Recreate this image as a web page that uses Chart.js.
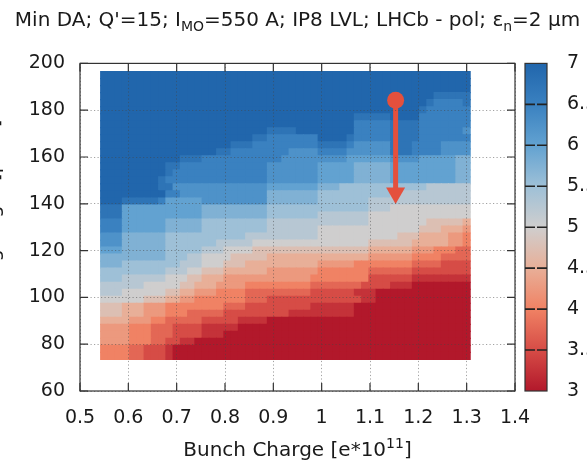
<!DOCTYPE html>
<html>
<head>
<meta charset="utf-8">
<title>Min DA scan</title>
<script src="https://cdn.jsdelivr.net/npm/chart.js@4.4.1/dist/chart.umd.min.js"></script>
<style>
  html, body { margin: 0; padding: 0; background: #ffffff; overflow: hidden; }
  canvas { display: block; }
</style>
</head>
<body>
<canvas id="da-chart" width="587" height="463"></canvas>
<script>
// Bunch charge (x) and crossing angle (y) at the centre of each scan cell
const bunchCharge = [0.55, 0.565, 0.58, 0.595, 0.61, 0.625, 0.64, 0.655, 0.67, 0.685,
                     0.7, 0.715, 0.73, 0.745, 0.76, 0.775, 0.79, 0.805, 0.82, 0.835,
                     0.85, 0.865, 0.88, 0.895, 0.91, 0.925, 0.94, 0.955, 0.97, 0.985,
                     1.0, 1.015, 1.03, 1.045, 1.06, 1.075, 1.09, 1.105, 1.12, 1.135,
                     1.15, 1.165, 1.18, 1.195, 1.21, 1.225, 1.24, 1.255, 1.27, 1.285, 1.3];
const crossingAngle = [75, 78, 81, 84, 87, 90, 93, 96, 99, 102, 105, 108, 111, 114,
                       117, 120, 123, 126, 129, 132, 135, 138, 141, 144, 147, 150, 153,
                       156, 159, 162, 165, 168, 171, 174, 177, 180, 183, 186, 189, 192, 195];

// Min DA per cell, one letter per cell, in steps of 0.25 starting at 3.0
// ('0' = 3.0, '4' = 4.0, '8' = 5.0, 'C' = 6.0, 'G' = 7.0).
// First row is the top of the plot (195), last row is 75. Space every ten cells.
const daLevels = '0123456789ABCDEFG';
const daRows = [
  'GGGGGGGGGG GGGGGGGGGG GGGGGGGGGG GGGGGGGGGG GGGGGGGGGG G', // 195
  'GGGGGGGGGG GGGGGGGGGG GGGGGGGGGG GGGGGGGGGG GGGGGGGGGG G', // 192
  'GGGGGGGGGG GGGGGGGGGG GGGGGGGGGG GGGGGGGGGG GGGGGGGGGG G', // 189
  'GGGGGGGGGG GGGGGGGGGG GGGGGGGGGG GGGGGGGGGG GGGGGGFFFF F', // 186
  'GGGGGGGGGG GGGGGGGGGG GGGGGGGGGG GGGGGGGGGG GGGGGFEEEE F', // 183
  'GGGGGGGGGG GGGGGGGGGG GGGGGGGGGG GGGGGGGGGG GGGGFEEEEE E', // 180
  'GGGGGGGGGG GGGGGGGGGG GGGGGGGGGG GGGGGFFFFF GGGGEEEEEE E', // 177
  'GGGGGGGGGG GGGGGGGGGG GGGGGGGGGG GGGGGEEEEE FFFFEEEEEE E', // 174
  'GGGGGGGGGG GGGGGGGGGG GGGFFFFGGG GGGGGEEEEE FFFFEEEEEE D', // 171
  'GGGGGGGGGG GGGGGGGGGG GFFEEEEEEE GGGGFEEEEE FFFFEEEEEE E', // 168
  'GGGGGGGGGG GGGGGGGGFF FEEEEEEEEE FFFFEDDDDD FFFEEEEDDD D', // 165
  'GGGGGGGGGG GGGGGGFFEE EEEEEEDDDD EEEEDDDDDD FFFEEEEDDD D', // 162
  'GGGGGGGGGG GFFFEEEEEE EEEEEDDDDD DDDDCCCCCC DDDDCCCCCB B', // 159
  'GGGGGGGGGF FEEEEEEEEE EEEDDDDDDD CCCCCBBBBB CCCCCCCCCB B', // 156
  'GGGGGGGGGF EEEEEEEEEE EEEDDDDDDD CCCCCBBBBB CCCCCCCCCB B', // 153
  'GGGGGGGGFE EEEEEEEEEE EEEDDDDDDD CCCCCBBBBB CCCCCCCCCB B', // 150
  'GGGGGGGGFF DDDDDDDDDD DDDCCCCCCC BBBAAAAAAA AAAAA99999 9', // 147
  'GGGGGGGGGE EDDDDDDDDD DDDBBBBBBB AAAAAAAAAA 9999999999 9', // 144
  'GGGFFFFFEC CCCCDDDDDD DDDBBBBBBB AAAAAAA999 9999999999 9', // 141
  'FFFCCCCCCC CCCCBBBBBB BBBAAAAAAA AAAAAAA999 8888888888 8', // 138
  'FFFCCCCCCC CCCCBBBBBB BBBAAAAAAA 9999999888 8888888888 8', // 135
  'EEECCCCCCB BBBBAAAAAA AAA9999999 9999999888 8888877777 6', // 132
  'EEECCCCCCB BBBBAAAAAA AAA9999999 8888888888 8888777666 5', // 129
  'DDDBBBBBBA AAAAAAAAAA 9999999999 8888888888 8777666655 4', // 126
  'DDDBBBBBBA AAAAAA9999 9888888888 8888888777 7776666655 4', // 123
  'CCCBBBBBBA AAAA999888 8777777777 7777777666 6665554443 3', // 120
  'BBBBBBBBBA AA99888877 7776666666 6666666555 5554444333 3', // 117
  'BBBAAAAAAA A999888777 6666666666 5555544444 4443333222 2', // 114
  'AAAAAAAAA9 9988777666 6665555555 4444444333 3332222222 2', // 111
  'AAA9999998 8877666555 5555555554 4444444222 2221111111 1', // 108
  '9999998888 8776665555 4444444443 3333332222 1110000000 0', // 105
  '9998888887 7665554444 3333333332 2222211100 0000000000 0', // 102
  '8888887776 6554444444 3332222222 2222221100 0000000000 0', // 99
  '7776665554 4444444333 2222222221 1111100000 0000000000 0', // 96
  '7776665554 4433333222 2222221111 1111100000 0000000000 0', // 93
  '6666555443 3333222221 1110000000 0000000000 0000000000 0', // 90
  '5555444333 2222111110 0000000000 0000000000 0000000000 0', // 87
  '5555444333 2222111000 0000000000 0000000000 0000000000 0', // 84
  '5555444332 2110000000 0000000000 0000000000 0000000000 0', // 81
  '4444332221 0000000000 0000000000 0000000000 0000000000 0', // 78
  '4444332221 0000000000 0000000000 0000000000 0000000000 0'  // 75
];

// Colour bar range / ticks
const colourTicks = [3, 3.5, 4, 4.5, 5, 5.5, 6, 6.5, 7];

// Scan arrow: start point (circle) and end point (arrow head)
const arrowCharge = [1.153, 1.153];
const arrowAngle = [184.3, 144.6];

// RdBu-like palette with a grey middle, as on the colour bar
const palette = [
  [3.0, [178, 24, 43]],
  [3.5, [214, 76, 70]],
  [4.0, [240, 130, 100]],
  [4.5, [232, 175, 152]],
  [5.0, [207, 206, 206]],
  [5.5, [158, 192, 215]],
  [6.0, [98, 162, 209]],
  [6.5, [58, 129, 192]],
  [7.0, [33, 102, 172]]
];
const textColour = '#1a1a1a';
const arrowColour = '#e4503d';
const FONT = "'DejaVu Sans', sans-serif";

function daColour(v) {
  if (v <= palette[0][0]) return 'rgb(' + palette[0][1].join(',') + ')';
  for (let i = 1; i < palette.length; i++) {
    if (v <= palette[i][0]) {
      const [v0, c0] = palette[i - 1];
      const [v1, c1] = palette[i];
      const t = (v - v0) / (v1 - v0);
      const c = c0.map((a, k) => Math.round(a + (c1[k] - a) * t));
      return 'rgb(' + c.join(',') + ')';
    }
  }
  return 'rgb(' + palette[palette.length - 1][1].join(',') + ')';
}

// Build the cells from the rows
const cells = [];
daRows.forEach((row, r) => {
  const codes = row.replace(/ /g, '');
  if (codes.length !== bunchCharge.length) console.warn('row', r, 'has', codes.length, 'cells');
  const angle = crossingAngle[crossingAngle.length - 1 - r];
  for (let c = 0; c < codes.length; c++) {
    cells.push({ x: bunchCharge[c], y: angle, v: 3 + daLevels.indexOf(codes[c]) * 0.25 });
  }
});

const xStep = bunchCharge[1] - bunchCharge[0];
const yStep = crossingAngle[1] - crossingAngle[0];

// half-size of one cell in pixels, turned into a 'rect' point radius
function cellRadius(ctx) {
  const s = ctx.chart.scales;
  if (!s.x || !s.y) return 5;
  const w = Math.abs(s.x.getPixelForValue(xStep) - s.x.getPixelForValue(0));
  const h = Math.abs(s.y.getPixelForValue(yStep) - s.y.getPixelForValue(0));
  return (Math.max(w, h) / 2 + 0.45) / Math.SQRT1_2;
}

// draw a line of text made of runs (normal / sub / superscript)
function drawRuns(ctx, runs, x, y, align) {
  let total = 0;
  runs.forEach(r => {
    ctx.font = r.size + 'px ' + FONT;
    r.w = ctx.measureText(r.text).width;
    total += r.w;
  });
  let cx = align === 'center' ? x - total / 2 : x;
  runs.forEach(r => {
    ctx.font = r.size + 'px ' + FONT;
    ctx.fillText(r.text, cx, y + (r.shift || 0));
    cx += r.w;
  });
}

const decorations = {
  id: 'decorations',
  afterDraw(chart) {
    const { ctx, chartArea: a, scales } = chart;
    const tickLen = 8;
    ctx.save();

    // frame around the plot with inner ticks on all four sides
    ctx.strokeStyle = '#333333';
    ctx.lineWidth = 1.2;
    ctx.strokeRect(a.left, a.top, a.right - a.left, a.bottom - a.top);
    ctx.beginPath();
    scales.x.ticks.forEach(t => {
      const px = scales.x.getPixelForValue(t.value);
      ctx.moveTo(px, a.bottom); ctx.lineTo(px, a.bottom - tickLen);
      ctx.moveTo(px, a.top); ctx.lineTo(px, a.top + tickLen);
    });
    scales.y.ticks.forEach(t => {
      const py = scales.y.getPixelForValue(t.value);
      ctx.moveTo(a.left, py); ctx.lineTo(a.left + tickLen, py);
      ctx.moveTo(a.right, py); ctx.lineTo(a.right - tickLen, py);
    });
    ctx.stroke();

    // colour bar
    const cb = scales.cb;
    const top = cb.getPixelForValue(colourTicks[colourTicks.length - 1]);
    const bottom = cb.getPixelForValue(colourTicks[0]);
    const left = a.right + 10, width = 22;
    const grad = ctx.createLinearGradient(0, bottom, 0, top);
    palette.forEach(([v, c]) => {
      grad.addColorStop((v - palette[0][0]) / (palette[palette.length - 1][0] - palette[0][0]),
        'rgb(' + c.join(',') + ')');
    });
    ctx.fillStyle = grad;
    ctx.fillRect(left, top, width, bottom - top);
    ctx.strokeStyle = '#333333';
    ctx.lineWidth = 1.2;
    ctx.strokeRect(left, top, width, bottom - top);
    ctx.strokeStyle = '#222222';
    ctx.lineWidth = 1.6;
    ctx.beginPath();
    colourTicks.slice(1, -1).forEach(v => {
      const py = cb.getPixelForValue(v);
      ctx.moveTo(left, py); ctx.lineTo(left + 10, py);
      ctx.moveTo(left + width - 10, py); ctx.lineTo(left + width, py);
    });
    ctx.stroke();

    // titles
    ctx.fillStyle = textColour;
    ctx.textBaseline = 'alphabetic';
    ctx.textAlign = 'left';
    const midX = (a.left + a.right) / 2;
    drawRuns(ctx, [
      { text: "Min DA; Q'=15; I", size: 20 },
      { text: 'MO', size: 14, shift: 5 },
      { text: '=550 A; IP8 LVL; LHCb - pol; \u03b5', size: 20 },
      { text: 'n', size: 14, shift: 5 },
      { text: '=2 \u03bcm', size: 20 }
    ], midX, 26, 'center');

    drawRuns(ctx, [
      { text: 'Bunch Charge [e*10', size: 20 },
      { text: '11', size: 14, shift: -8 },
      { text: ']', size: 20 }
    ], midX, 456, 'center');

    // y title sits mostly outside the picture, only its descenders show
    ctx.save();
    ctx.translate(-1.5, (a.top + a.bottom) / 2);
    ctx.rotate(-Math.PI / 2);
    ctx.textAlign = 'center';
    ctx.font = '20px ' + FONT;
    ctx.fillText('Crossing angle [\u03bcrad]', 0, 0);
    ctx.restore();

    ctx.restore();
  }
};

Chart.defaults.font.family = FONT;
Chart.defaults.color = textColour;

const gridStyle = { color: 'rgba(70,70,70,0.5)', lineWidth: 1, drawTicks: false, z: 1 };

new Chart(document.getElementById('da-chart'), {
  type: 'scatter',
  data: {
    datasets: [
      {
        label: 'scan',
        data: arrowCharge.map((x, i) => ({ x, y: arrowAngle[i] })),
        showLine: true,
        borderColor: arrowColour,
        borderWidth: 5,
        backgroundColor: arrowColour,
        pointBackgroundColor: arrowColour,
        pointBorderWidth: 0,
        pointStyle: ['circle', 'triangle'],
        pointRotation: [0, 180],
        pointRadius: [8.5, 11],
        order: 0
      },
      {
        label: 'Min DA',
        data: cells,
        pointStyle: 'rect',
        pointRadius: cellRadius,
        pointHoverRadius: cellRadius,
        pointBorderWidth: 0,
        pointBackgroundColor: ctx => daColour(ctx.raw.v),
        order: 1
      }
    ]
  },
  options: {
    responsive: false,
    animation: false,
    events: [],
    layout: { padding: { top: 52, left: 0, right: 0, bottom: 0 } },
    plugins: { legend: { display: false }, tooltip: { enabled: false }, title: { display: false } },
    scales: {
      x: {
        type: 'linear', position: 'bottom', min: 0.5, max: 1.4,
        ticks: { stepSize: 0.1, padding: 16, autoSkip: false, maxRotation: 0,
                 font: { size: 19 }, color: textColour,
                 callback: v => String(Math.round(v * 10) / 10) },
        grid: gridStyle,
        border: { display: false, dash: [1.2, 2.3] },
        afterFit: s => { s.height = 72; }
      },
      y: {
        type: 'linear', position: 'left', min: 60, max: 200,
        ticks: { stepSize: 20, padding: 15, autoSkip: false,
                 font: { size: 19 }, color: textColour,
                 callback: v => String(v) },
        grid: gridStyle,
        border: { display: false, dash: [1.2, 2.3] },
        afterFit: s => { s.width = 80; }
      },
      cb: {
        type: 'linear', position: 'right', min: 3, max: 7,
        ticks: { stepSize: 0.5, padding: 52, autoSkip: false,
                 font: { size: 19 }, color: textColour,
                 callback: v => String(v) },
        grid: { display: false, drawTicks: false },
        border: { display: false },
        afterFit: s => { s.width = 72; }
      }
    }
  },
  plugins: [decorations]
});
</script>
</body>
</html>
